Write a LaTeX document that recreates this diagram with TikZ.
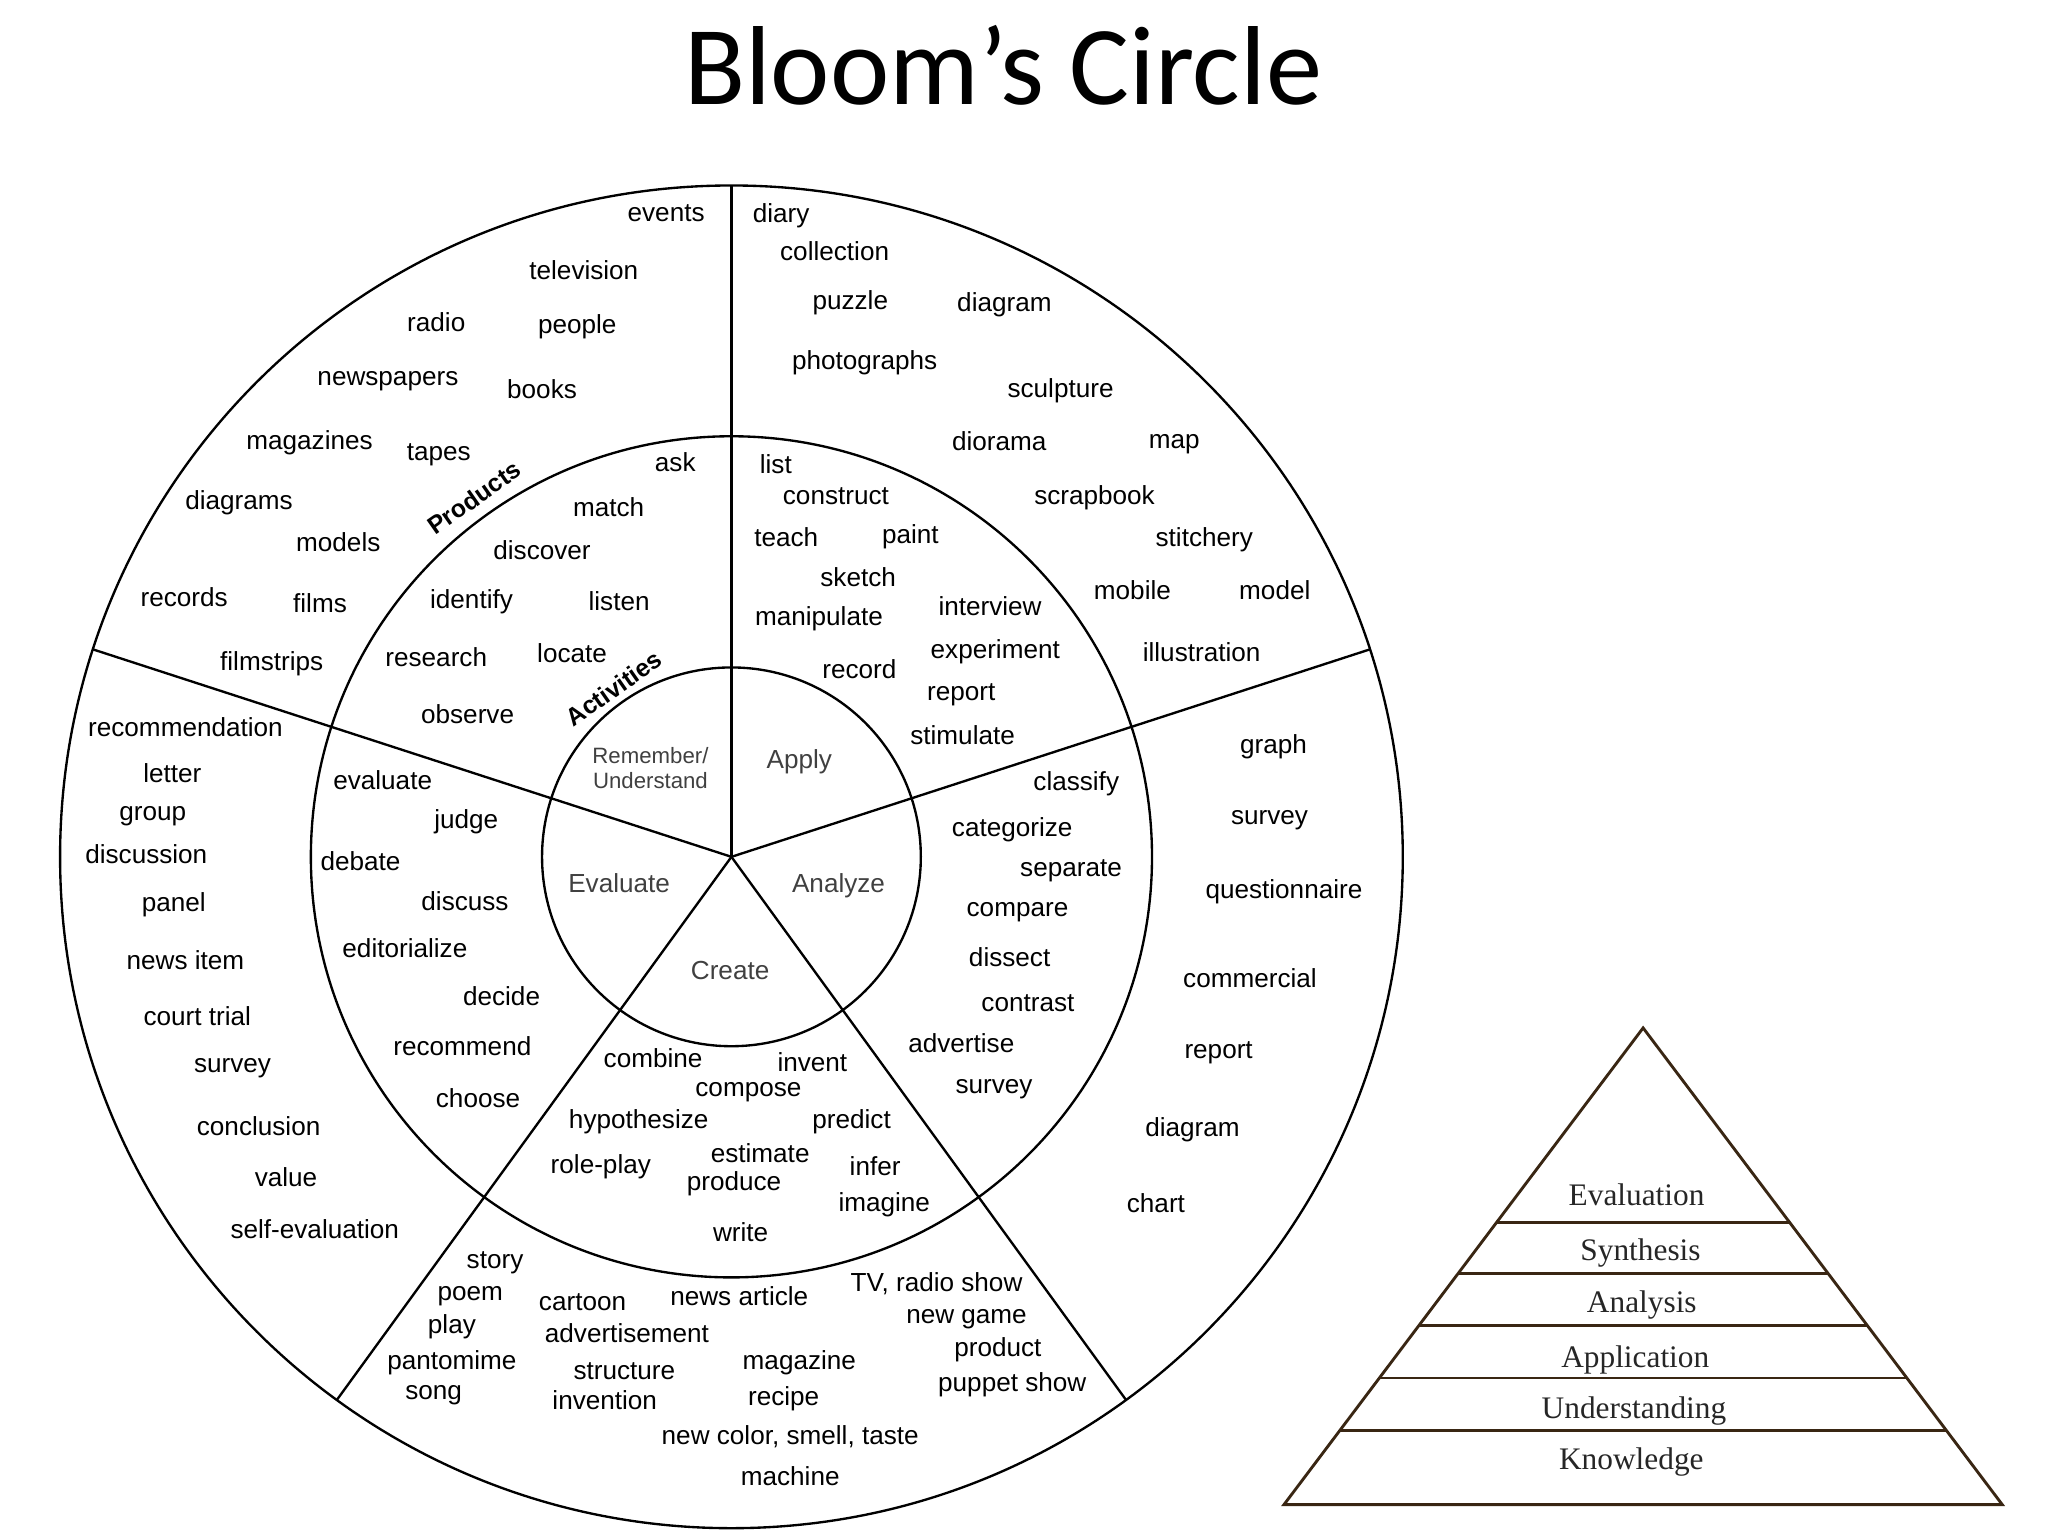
\documentclass[tikz,border=0pt]{standalone}
\usepackage{fontspec}
\setmainfont{Liberation Sans}
\newfontfamily\titlefont{Carlito}
\newfontfamily\serifont{Liberation Serif}
\begin{document}
\begin{tikzpicture}[x=1pt,y=-1pt,
  w/.style={font=\fontsize{20}{22}\selectfont, inner sep=0pt},
  cat/.style={font=\fontsize{20}{22}\selectfont, text=black!75, inner sep=0pt},
  lab/.style={font=\bfseries\fontsize{19}{21}\selectfont, rotate=35, inner sep=0pt},
  pyr/.style={font=\serifont\fontsize{24}{26}\selectfont, text=black!85, inner sep=0pt},
  ring/.style={line width=1.8pt},
  tri/.style={line width=2.2pt, draw=black!70!brown}]
\useasboundingbox (0,0) rectangle (1568,1176);
\node[font=\titlefont\fontsize{86}{96}\selectfont] (title) at (768,50) {Bloom’s Circle};
\coordinate (c) at (560,656);
\draw[ring] (c) circle[radius=514];
\draw[ring] (c) circle[radius=322];
\draw[ring] (c) circle[radius=145];
\foreach \a in {90,18,-54,-126,162} \draw[ring] (c) -- ++(-\a:514);
\foreach \t/\x/\y [count=\i] in {events/510/163,television/447/207,radio/334/247,people/442/250,newspapers/297/292,books/415/298,magazines/237/339,tapes/336/348,diagrams/183/385,models/259/415,records/141/457,films/245/462,filmstrips/208/508,
diary/598/165,collection/639/192,puzzle/651/232,diagram/769/233,photographs/662/278,sculpture/812/299,diorama/765/338,map/899/340,scrapbook/838/381,stitchery/922/413,mobile/867/452,model/976/452,illustration/920/499,
graph/975/572,survey/972/628,questionnaire/983/683,commercial/957/749,report/933/806,diagram/913/865,chart/885/921,
recommendation/142/557,letter/132/592,group/117/625,discussion/112/654,panel/133/693,news item/142/735,court trial/151/778,survey/178/818,conclusion/198/862,value/219/901,self-evaluation/241/941,
story/379/967,poem/360/992,play/346/1016,pantomime/346/1043,song/332/1068,cartoon/446/997,advertisement/480/1021,structure/478/1050,invention/463/1072,news article/566/992,magazine/612/1043,recipe/600/1071,machine/605/1130,new game/740/1010,product/764/1033,puppet show/775/1060,
ask/517/354,match/466/388,discover/415/421,identify/361/461,listen/474/460,research/334/503,locate/438/500,observe/358/547,
list/594/355,construct/640/380,teach/602/411,paint/697/411,sketch/657/442,manipulate/627/474,interview/758/464,experiment/762/499,record/658/512,report/736/532,stimulate/737/563,
classify/824/600,categorize/775/635,separate/820/667,compare/779/698,dissect/773/733,contrast/787/768,advertise/736/799,survey/761/834,
combine/500/810,invent/622/813,compose/573/836,hypothesize/489/859,predict/652/859,estimate/582/883,infer/670/893,role-play/460/893,produce/562/906,imagine/677/922,write/567/943,
evaluate/293/597,judge/357/629,debate/276/659,discuss/356/690,editorialize/310/726,decide/384/763,recommend/354/801,choose/366/841}
  \node[w] (w\i) at (\x,\y) {\t};
\node[w] (nc) at (605,1100) {new color, smell, taste};
\node[w] (tv) at (717,983) {TV, radio show};
\node[lab] (prod) at (363,381) {Products};
\node[lab] (act) at (470,527) {Activities};
\node[cat, font=\fontsize{17}{19}\selectfont, align=center] (ru) at (498,588) {Remember/\\Understand};
\node[cat] (ap) at (612,583) {Apply};
\node[cat] (ev) at (474,676) {Evaluate};
\node[cat] (an) at (642,678) {Analyze};
\node[cat] (cr) at (559,743) {Create};
\draw[tri] (1258,787) -- (983,1152) -- (1533,1152) -- cycle;
\foreach \y in {936,975,1015,1055,1095}
  \draw[tri] ({1258-(\y-787)*0.7534},\y) -- ({1258+(\y-787)*0.7534},\y);
\foreach \t/\x/\y [count=\i] in {Evaluation/1253/915,Synthesis/1256/959,Analysis/1257/999,Application/1252/1041,Understanding/1251/1080,Knowledge/1249/1119}
  \node[pyr] (p\i) at (\x,\y) {\t};
\end{tikzpicture}
\end{document}
